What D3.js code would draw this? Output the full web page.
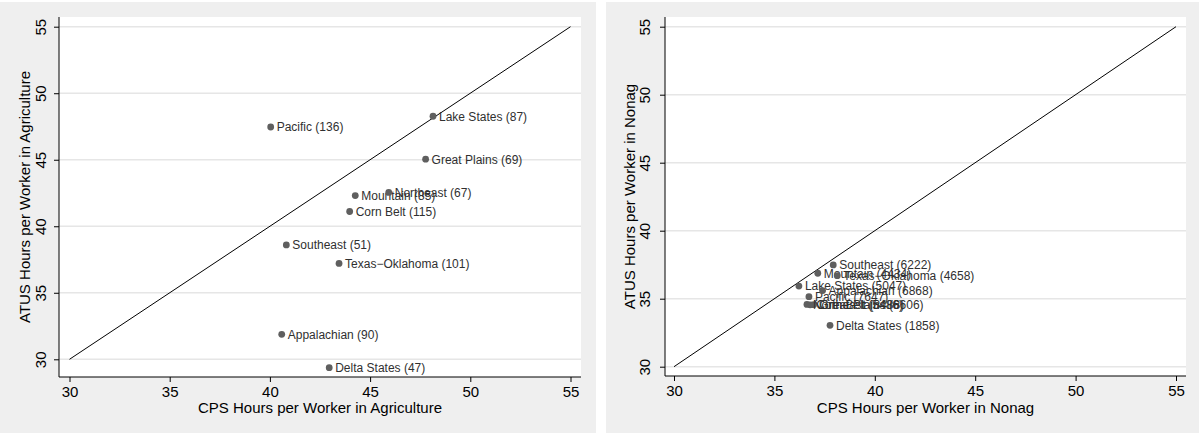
<!DOCTYPE html>
<html>
<head>
<meta charset="utf-8">
<script src="https://cdn.jsdelivr.net/npm/d3@7"></script>
<style>
  html, body { margin: 0; padding: 0; background: #ffffff; }
  svg { display: block; font-family: "Liberation Sans", Arial, Helvetica, sans-serif; }
</style>
</head>
<body>
<svg id="chart" width="1199" height="434"></svg>
<script>
// Census regions with sample sizes shown in the point labels
const agRegions = ["Pacific", "Lake States", "Great Plains", "Mountain", "Northeast",
                   "Corn Belt", "Southeast", "Texas\u2212Oklahoma", "Appalachian", "Delta States"];
const agN    = [136, 87, 69, 85, 67, 115, 51, 101, 90, 47];
const agCPS  = [40.04, 48.14, 47.77, 44.26, 45.93, 43.98, 40.82, 43.45, 40.59, 42.96];
const agATUS = [47.46, 48.27, 45.04, 42.31, 42.54, 41.11, 38.60, 37.21, 31.88, 29.37];

const nonagRegions = ["Pacific", "Lake States", "Great Plains", "Mountain", "Northeast",
                      "Corn Belt", "Southeast", "Texas\u2212Oklahoma", "Appalachian", "Delta States"];
const nonagN    = [7647, 5047, 6606, 4434, 5486, 8488, 6222, 4658, 6868, 1858];
const nonagCPS  = [36.72, 36.22, 36.95, 37.16, 36.62, 36.78, 37.93, 38.13, 37.40, 37.77];
const nonagATUS = [35.15, 35.93, 34.56, 36.87, 34.58, 34.55, 37.48, 36.69, 35.60, 33.04];

const axisTicks = [30, 35, 40, 45, 50, 55];
const diagonal = [30, 55];

const svg = d3.select("#chart");

function drawPanel(cfg) {
  const g = svg.append("g");

  // panel background
  g.append("rect")
    .attr("x", cfg.panel[0]).attr("y", 2)
    .attr("width", cfg.panel[1] - cfg.panel[0]).attr("height", 431)
    .attr("fill", "#efefef");

  // plot region
  g.append("rect")
    .attr("x", cfg.plot.l).attr("y", cfg.plot.t)
    .attr("width", cfg.plot.r - cfg.plot.l).attr("height", cfg.plot.b - cfg.plot.t)
    .attr("fill", "#ffffff");

  const x = d3.scaleLinear().domain([30, 55]).range(cfg.xRange);
  const y = d3.scaleLinear().domain([30, 55]).range(cfg.yRange);

  // horizontal grid lines
  g.append("g").selectAll("line").data(axisTicks).join("line")
    .attr("x1", cfg.plot.l).attr("x2", cfg.plot.r)
    .attr("y1", d => y(d)).attr("y2", d => y(d))
    .attr("stroke", "#e6e6e6").attr("stroke-width", 1.4);

  // 45-degree reference line
  g.append("line")
    .attr("x1", x(diagonal[0])).attr("y1", y(diagonal[0]))
    .attr("x2", x(diagonal[1])).attr("y2", y(diagonal[1]))
    .attr("stroke", "#000").attr("stroke-width", 1);

  // x axis
  const xAxis = g.append("g")
    .attr("transform", `translate(0,${cfg.plot.b})`)
    .call(d3.axisBottom(x).tickValues(axisTicks).tickSize(5).tickSizeOuter(0));
  xAxis.select(".domain").remove();
  xAxis.selectAll(".tick line").attr("stroke", "#000");
  xAxis.selectAll(".tick text")
    .attr("y", 19.5).attr("dy", 0)
    .attr("font-size", 15).attr("font-family", null).attr("fill", "#000");

  // y axis with rotated tick labels
  const yAxis = g.append("g")
    .attr("transform", `translate(${cfg.plot.l},0)`)
    .call(d3.axisLeft(y).tickValues(axisTicks).tickSize(5).tickSizeOuter(0));
  yAxis.select(".domain").remove();
  yAxis.selectAll(".tick line").attr("stroke", "#000");
  yAxis.selectAll(".tick text")
    .attr("x", null).attr("dy", 0)
    .attr("text-anchor", "middle")
    .attr("transform", `translate(${-cfg.yLabelOff},0) rotate(-90)`)
    .attr("font-size", 15).attr("font-family", null).attr("fill", "#000");

  // axis lines along plot region edges
  g.append("line")
    .attr("x1", cfg.plot.l).attr("x2", cfg.plot.r)
    .attr("y1", cfg.plot.b).attr("y2", cfg.plot.b)
    .attr("stroke", "#000").attr("stroke-width", 1);
  g.append("line")
    .attr("x1", cfg.plot.l).attr("x2", cfg.plot.l)
    .attr("y1", cfg.plot.t).attr("y2", cfg.plot.b)
    .attr("stroke", "#000").attr("stroke-width", 1);

  // axis titles
  g.append("text")
    .attr("x", (cfg.plot.l + cfg.plot.r) / 2).attr("y", 413)
    .attr("text-anchor", "middle").attr("font-size", 15)
    .text(cfg.xTitle);
  g.append("text")
    .attr("transform", `translate(${cfg.yTitleX},${(cfg.plot.t + cfg.plot.b) / 2}) rotate(-90)`)
    .attr("text-anchor", "middle").attr("font-size", 15)
    .text(cfg.yTitle);

  // points and labels
  const pts = cfg.regions.map((r, i) => ({
    label: `${r} (${cfg.n[i]})`, cx: cfg.xs[i], cy: cfg.ys[i]
  }));
  const pg = g.append("g");
  pts.forEach(p => {
    pg.append("circle")
      .attr("cx", x(p.cx)).attr("cy", y(p.cy)).attr("r", 3.4)
      .attr("fill", "#5f5f5f");
    pg.append("text")
      .attr("x", x(p.cx) + 6).attr("y", y(p.cy))
      .attr("dy", "0.36em").attr("font-size", 12).attr("fill", "#303030")
      .text(p.label);
  });
}

drawPanel({
  panel: [0, 596],
  plot: { l: 59, r: 581, t: 17, b: 377 },
  xRange: [69.5, 570.5], yRange: [359.3, 26.7],
  yLabelOff: 13.5, yTitleX: 30,
  xTitle: "CPS Hours per Worker in Agriculture",
  yTitle: "ATUS Hours per Worker in Agriculture",
  regions: agRegions, n: agN, xs: agCPS, ys: agATUS
});

drawPanel({
  panel: [606, 1199],
  plot: { l: 665, r: 1186, t: 17, b: 376 },
  xRange: [674, 1176], yRange: [366.7, 26.7],
  yLabelOff: 15, yTitleX: 635,
  xTitle: "CPS Hours per Worker in Nonag",
  yTitle: "ATUS Hours per Worker in Nonag",
  regions: nonagRegions, n: nonagN, xs: nonagCPS, ys: nonagATUS
});
</script>
</body>
</html>
